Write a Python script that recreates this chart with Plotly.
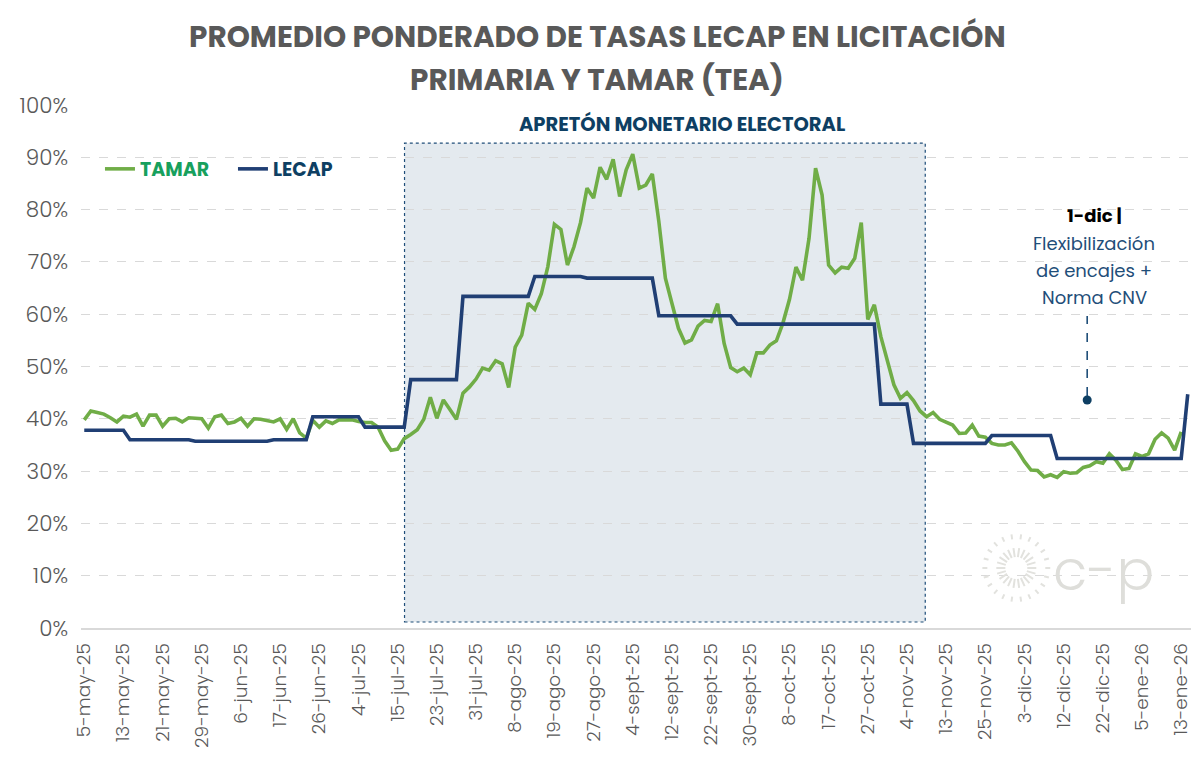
import math
import plotly.graph_objects as go

# ---------------- data ----------------
tick_labels = ["5-may-25", "13-may-25", "21-may-25", "29-may-25", "6-jun-25", "17-jun-25",
               "26-jun-25", "4-jul-25", "15-jul-25", "23-jul-25", "31-jul-25", "8-ago-25",
               "19-ago-25", "27-ago-25", "4-sept-25", "12-sept-25", "22-sept-25", "30-sept-25",
               "8-oct-25", "17-oct-25", "27-oct-25", "4-nov-25", "13-nov-25", "25-nov-25",
               "3-dic-25", "12-dic-25", "22-dic-25", "5-ene-26", "13-ene-26"]

tamar = [39.8, 41.5, 41.2, 40.9, 40.2, 39.4, 40.5, 40.3, 40.9, 38.6,
         40.7, 40.7, 38.6, 40.0, 40.1, 39.4, 40.2, 40.1, 40.0, 38.2,
         40.4, 40.7, 39.1, 39.4, 40.1, 38.6, 40.0, 39.9, 39.7, 39.4,
         40.0, 38.0, 40.0, 37.3, 36.3, 39.7, 38.4, 39.6, 39.1, 39.8,
         39.8, 39.8, 39.5, 39.3, 39.3, 38.4, 35.8, 34.0, 34.2, 36.2,
         37.0, 37.9, 39.9, 44.1, 40.1, 43.6, 41.8, 39.9, 44.9, 46.1,
         47.6, 49.7, 49.3, 51.1, 50.5, 46.0, 53.7, 56.0, 62.1, 60.9,
         63.9, 69.1, 77.2, 76.2, 69.4, 72.9, 77.5, 84.1, 82.2, 88.1,
         85.8, 89.6, 82.5, 87.6, 90.6, 84.1, 84.7, 86.8, 77.7, 66.9,
         62.1, 57.3, 54.5, 55.1, 57.7, 58.8, 58.6, 62.0, 54.4, 49.8,
         49.0, 49.7, 48.4, 52.6, 52.6, 54.1, 54.9, 58.3, 62.8, 69.0,
         66.5, 74.5, 87.9, 82.8, 69.4, 67.9, 69.0, 68.8, 70.7, 77.5,
         59.0, 61.8, 55.7, 51.1, 46.5, 43.9, 45.0, 43.5, 41.5, 40.4,
         41.2, 39.9, 39.3, 38.8, 37.2, 37.3, 38.8, 36.7, 36.5, 35.3,
         35.0, 35.0, 35.4, 33.8, 31.8, 30.2, 30.1, 28.9, 29.3, 28.8,
         29.9, 29.6, 29.7, 30.7, 31.0, 31.8, 31.5, 33.3, 32.1, 30.3,
         30.5, 33.3, 32.8, 33.3, 36.1, 37.3, 36.3, 34.0, 37.5]

lecap = [37.8, 37.8, 37.8, 37.8, 37.8, 37.8, 37.8, 36.0, 36.0, 36.0,
         36.0, 36.0, 36.0, 36.0, 36.0, 36.0, 36.0, 35.7, 35.7, 35.7,
         35.7, 35.7, 35.7, 35.7, 35.7, 35.7, 35.7, 35.7, 35.7, 36.0,
         36.0, 36.0, 36.0, 36.0, 36.0, 40.4, 40.4, 40.4, 40.4, 40.4,
         40.4, 40.4, 40.4, 38.4, 38.4, 38.4, 38.4, 38.4, 38.4, 38.4,
         47.5, 47.5, 47.5, 47.5, 47.5, 47.5, 47.5, 47.5, 63.4, 63.4,
         63.4, 63.4, 63.4, 63.4, 63.4, 63.4, 63.4, 63.4, 63.4, 67.2,
         67.2, 67.2, 67.2, 67.2, 67.2, 67.2, 67.2, 66.9, 66.9, 66.9,
         66.9, 66.9, 66.9, 66.9, 66.9, 66.9, 66.9, 66.9, 59.7, 59.7,
         59.7, 59.7, 59.7, 59.7, 59.7, 59.7, 59.7, 59.7, 59.7, 59.7,
         58.1, 58.1, 58.1, 58.1, 58.1, 58.1, 58.1, 58.1, 58.1, 58.1,
         58.1, 58.1, 58.1, 58.1, 58.1, 58.1, 58.1, 58.1, 58.1, 58.1,
         58.1, 58.1, 42.8, 42.8, 42.8, 42.8, 42.8, 35.3, 35.3, 35.3,
         35.3, 35.3, 35.3, 35.3, 35.3, 35.3, 35.3, 35.3, 35.3, 36.8,
         36.8, 36.8, 36.8, 36.8, 36.8, 36.8, 36.8, 36.8, 36.8, 32.4,
         32.4, 32.4, 32.4, 32.4, 32.4, 32.4, 32.4, 32.4, 32.4, 32.4,
         32.4, 32.4, 32.4, 32.4, 32.4, 32.4, 32.4, 32.4, 32.4, 44.7]

# ---------------- layout helpers ----------------
W, H = 1200, 784
ML, MR, MT, MB = 81, 7, 105, 156
PW = W - ML - MR
PH = H - MT - MB
FONT = "Poppins, Inter, sans-serif"
GREEN = "#70AD47"
NAVY = "#203F74"
TXT_NAVY = "#0E3F63"
GRAY = "#595959"


def pxx(px):
    return (px - ML) / PW


def pxy(py):
    return (H - MB - py) / PH


fig = go.Figure()
fig.add_trace(go.Scatter(
    x=list(range(len(tamar))), y=tamar, mode="lines",
    name='<b><span style="color:#17A05D">TAMAR</span></b>',
    line=dict(color=GREEN, width=3.6)))
fig.add_trace(go.Scatter(
    x=list(range(len(lecap))), y=lecap, mode="lines",
    name='<b><span style="color:#0E3F63">LECAP</span></b>',
    line=dict(color=NAVY, width=3.6)))

shapes = []
# shaded electoral box
shapes.append(dict(type="rect", xref="x", yref="y", x0=49.05, x1=128.8, y0=1.15, y1=92.7,
                   fillcolor="#E4EAEF", line=dict(color="#1F4E79", width=1.2, dash="dot"),
                   layer="below"))
# white area behind legend (hides gridlines)
shapes.append(dict(type="rect", xref="paper", yref="paper", x0=pxx(82), x1=pxx(357),
                   y0=pxy(218), y1=pxy(140), fillcolor="white", line=dict(width=0),
                   layer="between"))
# annotation pointer
shapes.append(dict(type="line", xref="paper", yref="paper", x0=pxx(1089), x1=pxx(1089),
                   y0=pxy(396), y1=pxy(316), line=dict(color="#1F4E79", width=1.6, dash="dash")))
shapes.append(dict(type="circle", xref="paper", yref="paper", x0=pxx(1084.5), x1=pxx(1093.5),
                   y0=pxy(404.5), y1=pxy(395.5), fillcolor=TXT_NAVY, line=dict(width=0)))
# watermark sunburst
cx, cy = 1018, 568
for k in range(22):
    a = 2 * math.pi * k / 22
    r0, r1 = 11, 34
    shapes.append(dict(type="line", xref="paper", yref="paper",
                       x0=pxx(cx + r0 * math.cos(a)), y0=pxy(cy + r0 * math.sin(a)),
                       x1=pxx(cx + r1 * math.cos(a)), y1=pxy(cy + r1 * math.sin(a)),
                       line=dict(color="#E2E2DE", width=2, dash="dash"), layer="above"))

annotations = [
    dict(text="<b>PROMEDIO PONDERADO DE TASAS LECAP EN LICITACIÓN</b>", x=pxx(598), y=pxy(36),
         font=dict(size=29.5, color=GRAY, family=FONT)),
    dict(text="<b>PRIMARIA Y TAMAR (TEA)</b>", x=pxx(598), y=pxy(79),
         font=dict(size=29.5, color=GRAY, family=FONT)),
    dict(text="<b>APRETÓN MONETARIO ELECTORAL</b>", x=pxx(683), y=pxy(124),
         font=dict(size=19.5, color=TXT_NAVY, family=FONT)),
    dict(text="<b>1-dic |</b>", x=pxx(1096), y=pxy(215),
         font=dict(size=18, color="#000000", family=FONT)),
    dict(text="Flexibilización", x=pxx(1096), y=pxy(243),
         font=dict(size=18, color="#1F4E79", family=FONT)),
    dict(text="de encajes +", x=pxx(1096), y=pxy(270),
         font=dict(size=18, color="#1F4E79", family=FONT)),
    dict(text="Norma CNV", x=pxx(1096), y=pxy(297),
         font=dict(size=18, color="#1F4E79", family=FONT)),
    dict(text="c-p", x=pxx(1105), y=pxy(570),
         font=dict(size=56, color="#DEDEDA", family=FONT, weight=300)),
]
for a in annotations:
    a.update(xref="paper", yref="paper", showarrow=False, xanchor="center", yanchor="middle")

fig.update_layout(
    width=W, height=H,
    margin=dict(l=ML, r=MR, t=MT, b=MB),
    paper_bgcolor="white", plot_bgcolor="white",
    font=dict(family=FONT, color=GRAY),
    showlegend=True,
    legend=dict(orientation="h", x=pxx(100), y=pxy(169), xanchor="left", yanchor="middle",
                font=dict(size=19, family=FONT), bgcolor="rgba(0,0,0,0)", entrywidth=88,
                itemwidth=30),
    shapes=shapes,
    annotations=annotations,
    xaxis=dict(range=[-0.5, 169.5], tickmode="array",
               tickvals=list(range(0, 6 * len(tick_labels), 6)), ticktext=tick_labels,
               tickangle=-90, tickfont=dict(size=18.5, color=GRAY, family=FONT, weight=300),
               showgrid=False, showline=True, linecolor="#D9D9D9", linewidth=1.5,
               ticks="", zeroline=False, ticklabelstandoff=6),
    yaxis=dict(range=[0, 100], dtick=10, ticksuffix="%",
               tickfont=dict(size=21.5, color=GRAY, family=FONT, weight=300),
               showgrid=True, gridcolor="#D9D9D9", gridwidth=1.3, griddash="dash",
               zeroline=False, showline=False, ticks="", ticklabelstandoff=12),
)

fig.write_html("out.html")
